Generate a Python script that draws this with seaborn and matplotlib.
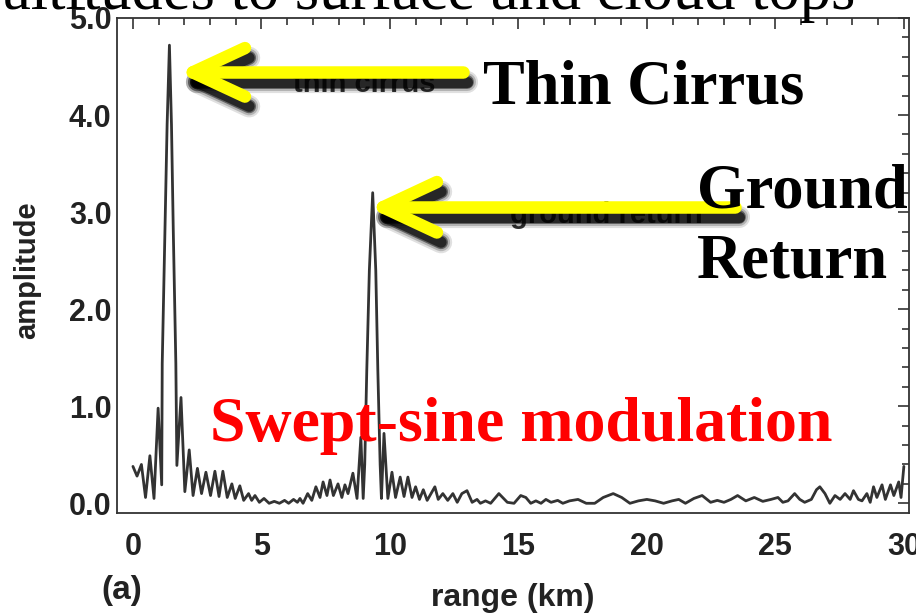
import numpy as np
import pandas as pd
import matplotlib
matplotlib.use("Agg")
import matplotlib.pyplot as plt
import matplotlib.transforms as mtransforms
from matplotlib.ticker import MultipleLocator, FormatStrFormatter
import seaborn as sns

# ---------------- data ----------------
range_km = [
    0.0, 0.16, 0.33, 0.49, 0.66, 0.82, 0.98, 1.12, 1.14, 1.245, 1.33, 1.42, 1.50, 1.57, 1.67, 1.71,
    1.87, 2.02, 2.19, 2.34, 2.51, 2.67, 2.84, 3.02, 3.19, 3.35, 3.5, 3.67, 3.85, 3.98, 4.16, 4.31,
    4.5, 4.62, 4.75, 4.92, 5.1, 5.3, 5.5, 5.7, 5.9, 6.06, 6.25, 6.4, 6.5, 6.62, 6.8, 6.96, 7.12,
    7.28, 7.4, 7.55, 7.67, 7.8, 7.98, 8.13, 8.25, 8.37, 8.56, 8.72, 8.87, 8.96, 9.02, 9.1, 9.2,
    9.33, 9.45, 9.53, 9.62, 9.67, 9.77, 9.92, 10.08, 10.22, 10.4, 10.55, 10.7, 10.86, 11.0, 11.15,
    11.3, 11.45, 11.75, 11.88, 12.06, 12.25, 12.45, 12.62, 12.8, 13.0, 13.2, 13.39, 13.52, 13.72,
    13.92, 14.24, 14.57, 14.83, 15.09, 15.29, 15.48, 15.68, 15.88, 16.07, 16.27, 16.53, 16.73,
    16.99, 17.32, 17.64, 17.97, 18.30, 18.69, 19.02, 19.34, 19.67, 20.0, 20.32, 20.65, 20.98,
    21.24, 21.50, 21.83, 22.15, 22.48, 22.74, 23.0, 23.27, 23.53, 23.85, 24.18, 24.51, 24.83,
    25.10, 25.29, 25.49, 25.75, 25.95, 26.14, 26.40, 26.60, 26.73, 26.93, 27.12, 27.32, 27.52,
    27.71, 27.91, 28.04, 28.23, 28.37, 28.56, 28.69, 28.82, 28.95, 29.15, 29.28, 29.48, 29.61,
    29.80, 29.89, 30.0,
]
amplitude = [
    0.38, 0.28, 0.40, 0.06, 0.49, 0.05, 0.98, 0.19, 1.44, 2.81, 3.9, 4.72, 3.9, 2.81, 1.44, 0.39,
    1.09, 0.12, 0.55, 0.08, 0.36, 0.10, 0.32, 0.08, 0.33, 0.07, 0.33, 0.06, 0.20, 0.05, 0.18, 0.03,
    0.10, 0.03, 0.08, 0.01, 0.05, 0.0, 0.02, 0.0, 0.03, 0.0, 0.04, 0.01, 0.05, 0.0, 0.10, 0.03, 0.17,
    0.06, 0.22, 0.08, 0.24, 0.08, 0.20, 0.06, 0.19, 0.10, 0.31, 0.05, 0.68, 0.05, 0.40, 1.37, 2.4,
    3.2, 2.4, 1.37, 0.40, 0.05, 0.72, 0.05, 0.32, 0.06, 0.27, 0.07, 0.27, 0.06, 0.17, 0.04,
    0.14, 0.03, 0.17, 0.04, 0.10, 0.03, 0.10, 0.01, 0.10, 0.13, 0.01, 0.04, 0.0, 0.025,
    0.0, 0.10, 0.01, 0.0, 0.08, 0.06, 0.0, 0.025, 0.0, 0.04, 0.01, 0.03, 0.0,
    0.025, 0.04, 0.0, 0.0, 0.06, 0.10, 0.06, 0.0, 0.025, 0.04, 0.025, 0.0, 0.025,
    0.04, 0.0, 0.05, 0.08, 0.01, 0.03, 0.01, 0.04, 0.08, 0.025, 0.06, 0.02, 0.04,
    0.06, 0.01, 0.025, 0.10, 0.04, 0.01, 0.04, 0.14, 0.17, 0.10, 0.0, 0.08, 0.04,
    0.10, 0.04, 0.13, 0.04, 0.025, 0.10, 0.01, 0.17, 0.06, 0.19, 0.04, 0.19, 0.08,
    0.22, 0.06, 0.38,
]
x_ticks = [0, 5, 10, 15, 20, 25, 30]
y_ticks = [0.0, 1.0, 2.0, 3.0, 4.0, 5.0]

df = pd.DataFrame({"range (km)": range_km, "amplitude": amplitude})

# ---------------- figure ----------------
sns.set_theme(style="white")
plt.rcParams["font.family"] = ["Liberation Sans", "DejaVu Sans"]

W, H = 916, 616
fig = plt.figure(figsize=(W / 100, H / 100), dpi=100)
ax = fig.add_axes([117 / W, 1 - 513 / H, (909 - 117) / W, (513 - 18) / H])

sns.lineplot(data=df, x="range (km)", y="amplitude", ax=ax, color="#333333",
             linewidth=2.0, estimator=None, sort=False, zorder=3)

ax.set_xlim(-0.62, 30.2)
ax.set_ylim(-0.1, 5.0)
ax.set_xticks(x_ticks)
ax.set_yticks(y_ticks)
ax.xaxis.set_minor_locator(MultipleLocator(1))
ax.yaxis.set_minor_locator(MultipleLocator(0.2))
ax.yaxis.set_major_formatter(FormatStrFormatter("%.1f"))
ax.tick_params(axis="both", which="both", direction="in", top=True, right=True,
               color="#333333", width=1.2)
ax.tick_params(axis="both", which="major", length=8)
ax.tick_params(axis="both", which="minor", length=5)
ax.tick_params(axis="x", which="major", pad=14, labelsize=22, labelcolor="#222222")
ax.tick_params(axis="y", which="major", pad=4, labelsize=22, labelcolor="#222222")
for lab in ax.get_xticklabels() + ax.get_yticklabels():
    lab.set_fontweight("bold")
for sp in ax.spines.values():
    sp.set_color("#333333")
    sp.set_linewidth(1.3)
ax.grid(False)

ax.set_xlabel("range (km)", fontsize=23, fontweight="bold", color="#222222", va="center")
ax.xaxis.set_label_coords(0.5, -(598 - 513) / (513 - 18))
ax.set_ylabel("amplitude", fontsize=21, fontweight="bold", color="#222222", va="center")
ax.yaxis.set_label_coords(-(117 - 27) / (909 - 117), (513 - 270) / (513 - 18))
fig.text(122 / W, 1 - 591 / H, "(a)", fontsize=24, fontweight="bold", color="#222222",
         ha="center", va="center")

# original (blurred) labels under the arrows
ax.text(6.23, 4.24, "thin cirrus", fontsize=21, fontweight="bold", color="#333333",
        ha="left", va="baseline", zorder=4)
ax.text(14.67, 2.89, "ground return", fontsize=21, fontweight="bold", color="#333333",
        ha="left", va="baseline", zorder=4)

# yellow arrows with shadow
arrows = [
    {"tip": (2.33, 4.44), "tail": (12.84, 4.44), "arm": 4.36, "dy": 0.25},
    {"tip": (9.73, 3.05), "tail": (23.42, 3.05), "arm": 11.83, "dy": 0.26},
]
shadow_tr = mtransforms.offset_copy(ax.transData, fig=fig, x=3, y=-7, units="points")
for a in arrows:
    tx, ty = a["tip"]
    segs = [([a["tail"][0], tx], [ty, ty]),
            ([a["arm"], tx], [ty + a["dy"], ty]),
            ([a["arm"], tx], [ty - a["dy"], ty])]
    for lw, al in [(16, 0.12), (13, 0.2), (10, 0.45), (8, 0.6)]:
        for xs, ys in segs:
            ax.plot(xs, ys, color="black", lw=lw, alpha=al, solid_capstyle="round",
                    transform=shadow_tr, clip_on=False, zorder=5)
    for xs, ys in segs:
        ax.plot(xs, ys, color="#FFFF00", lw=9, solid_capstyle="round",
                clip_on=False, zorder=6)

# overlaid annotation texts
serif = ["Liberation Serif", "DejaVu Serif"]
fig.text(483 / W, 1 - 103 / H, "Thin Cirrus", fontsize=45, fontweight="bold",
         family=serif, color="black", ha="left", va="baseline", zorder=10)
fig.text(697 / W, 1 - 207 / H, "Ground", fontsize=45, fontweight="bold",
         family=serif, color="black", ha="left", va="baseline", zorder=10)
fig.text(697 / W, 1 - 278 / H, "Return", fontsize=45, fontweight="bold",
         family=serif, color="black", ha="left", va="baseline", zorder=10)
fig.text(210 / W, 1 - 441 / H, "Swept-sine modulation", fontsize=46, fontweight="bold",
         family=serif, color="#FF0000", ha="left", va="baseline", zorder=10)
fig.text(855 / W, 1 - 9 / H, "altitudes to surface and cloud tops", fontsize=45,
         family=serif, color="black", ha="right", va="baseline", zorder=10)

fig.savefig("out.png", dpi=100)
